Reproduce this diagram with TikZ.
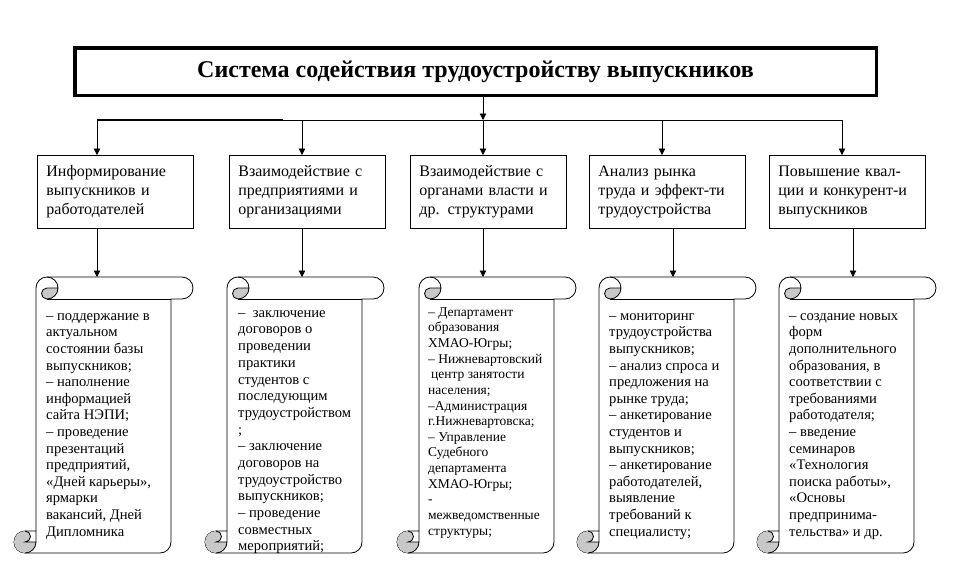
\documentclass[tikz,border=0pt]{standalone}
\usepackage{fontspec}
\setmainfont{Liberation Serif}
\usetikzlibrary{arrows.meta}
\definecolor{curlgray}{RGB}{200,200,200}
\tikzset{
  conn/.style={line width=0.8pt},
  arr/.style={line width=0.8pt,-{Triangle[width=6.5pt,length=6.5pt]}},
  titlebox/.style={draw,line width=3.5pt,minimum width=801.5pt,minimum height=47.5pt,inner sep=0pt,
    font=\fontsize{24}{28}\selectfont\bfseries},
  topbox/.style={draw,line width=0.8pt,anchor=north west,minimum width=156pt,minimum height=73pt,
    inner xsep=9pt,inner ysep=0pt,text width=138pt,align=left,font=\fontsize{16}{19}\selectfont},
  scrolltxt/.style={anchor=north west,inner sep=0pt,align=left},
  scrollline/.style={line width=0.8pt},
  curlfill/.style={fill=curlgray},
}
\newcommand\vscroll[4]{%
  \filldraw[scrollline,fill=white] (#1,-#4+22) -- (#1,-#3-11) arc[start angle=180,end angle=90,radius=11]
    -- (#2+11,-#3) arc[start angle=90,end angle=-90,radius=11] -- (#2,-#3-22) -- (#2,-#4+11)
    arc[start angle=0,end angle=-90,radius=11] -- (#1-11,-#4) arc[start angle=270,end angle=90,radius=11] -- cycle;
  \fill[curlfill] (#1+22,-#3-11) arc[start angle=0,end angle=-90,radius=11] arc[start angle=270,end angle=90,radius=5.5] -- cycle;
  \fill[curlfill] (#1,-#4+11) arc[start angle=0,end angle=-270,radius=11] arc[start angle=90,end angle=-90,radius=5.5] -- cycle;
  \draw[scrollline] (#1+11,-#3) arc[start angle=90,end angle=-90,radius=11] arc[start angle=270,end angle=90,radius=5.5] -- (#1+22,-#3-11);
  \draw[scrollline] (#2,-#3-22) -- (#1+11,-#3-22);
  \draw[scrollline] (#1-11,-#4+22) arc[start angle=90,end angle=-90,radius=5.5] -- (#1,-#4+11) -- (#1,-#4+22);
  \draw[scrollline] (#1,-#4+11) arc[start angle=0,end angle=-90,radius=11];
}
\begin{document}
\begin{tikzpicture}[x=1pt,y=1pt]
\useasboundingbox (0,0) rectangle (962,-566);
\fill[white] (0,0) rectangle (962,-566);

% title
\node[titlebox] (title) at (475.5,-71.5) {Система содействия трудоустройству выпускников};

% top boxes
\node[topbox] (b1) at (37,-155) {\strut\mbox{Информирование}\\\mbox{выпускников и}\\\mbox{работодателей}\strut};
\node[topbox] (b2) at (229,-155) {\strut\mbox{Взаимодействие с}\\\mbox{предприятиями и}\\\mbox{организациями}\strut};
\node[topbox] (b3) at (410,-155) {\strut\mbox{Взаимодействие с}\\\mbox{органами власти и}\\\mbox{др. структурами}\strut};
\node[topbox] (b4) at (589,-155) {\strut\mbox{Анализ рынка}\\\mbox{труда и эффект-ти}\\\mbox{трудоустройства}\strut};
\node[topbox] (b5) at (769,-155) {\strut\mbox{Повышение квал-}\\\mbox{ции и конкурент-и}\\\mbox{выпускников}\strut};

% bus
\coordinate (j1) at (97,-120);
\coordinate (j2) at (302,-120);
\coordinate (j3) at (483,-120);
\coordinate (j4) at (662,-120);
\coordinate (j5) at (842,-120);
\coordinate (jt) at (283,-120);
\draw[conn] (j1) -- (j5);
\draw[line width=2pt] (j1) -- (jt);
\draw[arr] (title.south -| j3) -- (j3);
\foreach \i in {1,...,5} {\draw[arr] (j\i) -- (j\i |- b\i.north);}

% scrolls
\vscroll{36}{171}{277}{553}
\vscroll{227}{362}{277}{553}
\vscroll{419}{554}{277}{553}
\vscroll{599}{734}{277}{553}
\vscroll{779}{914}{277}{553}

\coordinate (s1) at (97,-277);
\coordinate (s2) at (302,-277);
\coordinate (s3) at (483,-277);
\coordinate (s4) at (673,-277);
\coordinate (s5) at (853,-277);
\foreach \i in {1,...,5} {\draw[arr] (b\i.south -| s\i) -- (s\i);}

% scroll texts
\node[scrolltxt,font=\fontsize{14.6}{16.6}\selectfont] (t1) at (46,-308.4) {\strut– поддержание в\\актуальном\\состоянии базы\\выпускников;\\– наполнение\\информацией\\сайта НЭПИ;\\– проведение\\презентаций\\предприятий,\\«Дней карьеры»,\\ярмарки\\вакансий, Дней\\Дипломника};
\node[scrolltxt,font=\fontsize{14.6}{16.7}\selectfont] (t2) at (238,-305.3) {\strut– ~заключение\\договоров о\\проведении\\практики\\студентов с\\последующим\\трудоустройством\\;\\– заключение\\договоров на\\трудоустройство\\выпускников;\\– проведение\\совместных\\мероприятий;};
\node[scrolltxt,font=\fontsize{13.5}{15.64}\selectfont] (t3) at (428,-305.05) {\strut– Департамент\\образования\\ХМАО-Югры;\\– Нижневартовский\\\hspace*{3pt}центр занятости\\населения;\\–Администрация\\г.Нижневартовска;\\– Управление\\Судебного\\департамента\\ХМАО-Югры;\\-\\межведомственные\\структуры;};
\node[scrolltxt,font=\fontsize{14.6}{16.6}\selectfont] (t4) at (609,-308.4) {\strut– мониторинг\\трудоустройства\\выпускников;\\– анализ спроса и\\предложения на\\рынке труда;\\– анкетирование\\студентов и\\выпускников;\\– анкетирование\\работодателей,\\выявление\\требований к\\специалисту;};
\node[scrolltxt,font=\fontsize{14.6}{16.6}\selectfont] (t5) at (789,-308.4) {\strut– создание новых\\форм\\дополнительного\\образования, в\\соответствии с\\требованиями\\работодателя;\\– введение\\семинаров\\«Технология\\поиска работы»,\\«Основы\\предпринима-\\тельства» и др.};
\end{tikzpicture}
\end{document}
